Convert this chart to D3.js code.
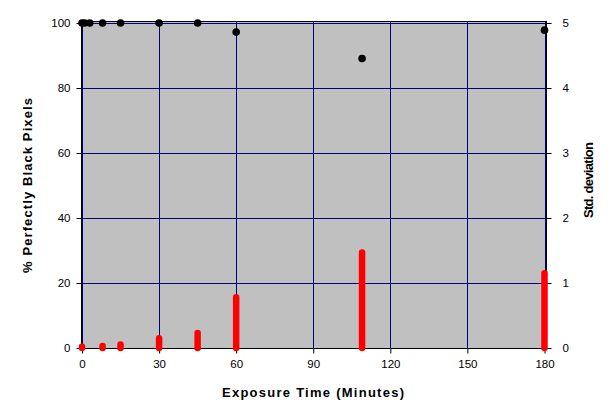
<!DOCTYPE html>
<html><head><meta charset="utf-8">
<script src="https://cdn.jsdelivr.net/npm/d3@7"></script>
<style>
html,body{margin:0;padding:0;background:#fff;}
text{font-family:"Liberation Sans",Arial,sans-serif;}
</style></head>
<body>
<svg id="c" width="612" height="419"></svg>
<script>
const times      = [0, 1, 3, 8, 15, 30, 45, 60, 109, 180];
const pctBlack   = [100, 100, 100, 100, 100, 100, 100, 97.2, 89.1, 97.8];
const stdDev     = [0.02, null, null, 0.03, 0.055, 0.15, 0.23, 0.78, 1.47, 1.15];
const xTicks     = [0, 30, 60, 90, 120, 150, 180];
const yTicks     = [0, 20, 40, 60, 80, 100];
const y2Ticks    = [0, 1, 2, 3, 4, 5];

const svg = d3.select("#c");
const x = d3.scaleLinear().domain([0, 180]).range([82, 544.5]);
const y = d3.scaleLinear().domain([0, 100]).range([348, 23]);
const y2 = d3.scaleLinear().domain([0, 5]).range([348, 23]);

// plot area
svg.append("rect").attr("x", 81).attr("y", 21).attr("width", 466).attr("height", 327)
  .attr("fill", "#c0c0c0").attr("stroke", "none");

// gridlines
svg.append("g").selectAll("line").data(yTicks.slice(1)).join("line")
  .attr("x1", 81).attr("x2", 547).attr("y1", d => Math.round(y(d)) + 0.5).attr("y2", d => Math.round(y(d)) + 0.5)
  .attr("stroke", "#000080").attr("stroke-width", 1);
svg.append("g").selectAll("line").data(xTicks).join("line")
  .attr("y1", 21).attr("y2", 348).attr("x1", d => Math.round(x(d)) + 0.5).attr("x2", d => Math.round(x(d)) + 0.5)
  .attr("stroke", "#000080").attr("stroke-width", 1);

// border (top & right)
svg.append("path").attr("d", "M81.5,348 V21.5 H546.5 V348").attr("fill", "none").attr("stroke", "#000").attr("stroke-width", 1);

// axes
const fs = "11.5px";
const gL = svg.append("g").attr("transform", "translate(81.5,0)")
  .call(d3.axisLeft(y).tickValues(yTicks).tickSize(5).tickPadding(6).tickSizeOuter(0).tickFormat(d3.format("d")));
const gR = svg.append("g").attr("transform", "translate(546.5,0)")
  .call(d3.axisRight(y2).tickValues(y2Ticks).tickSize(5).tickPadding(11).tickSizeOuter(0).tickFormat(d3.format("d")));
const gB = svg.append("g").attr("transform", "translate(0,348.5)")
  .call(d3.axisBottom(x).tickValues(xTicks).tickSize(5).tickPadding(6).tickSizeOuter(0).tickFormat(d3.format("d")));
[gL, gR, gB].forEach(g => {
  g.select(".domain").attr("stroke", "#000");
  g.selectAll(".tick line").attr("stroke", "#000");
  g.selectAll(".tick text").attr("fill", "#000").style("font-size", fs).style("font-family", "'Liberation Sans',Arial,sans-serif");
});
gB.select(".domain").attr("d", "M81,0H547");
gL.select(".domain").attr("d", "M0,21V348");
gR.select(".domain").attr("d", "M0,21V348");

// std deviation bars (secondary axis)
svg.append("g").selectAll("line").data(times.map((t, i) => ({t, v: stdDev[i]})).filter(d => d.v !== null)).join("line")
  .attr("x1", d => x(d.t)).attr("x2", d => x(d.t))
  .attr("y1", y2(0)).attr("y2", d => y2(d.v))
  .attr("stroke", "#ff0000").attr("stroke-width", 6.5).attr("stroke-linecap", "round");

// % black points
svg.append("g").selectAll("circle").data(times.map((t, i) => ({t, v: pctBlack[i]}))).join("circle")
  .attr("cx", d => x(d.t)).attr("cy", d => y(d.v)).attr("r", 3.8).attr("fill", "#000");

// titles
svg.append("text").attr("x", 313).attr("y", 397).attr("text-anchor", "middle")
  .style("font-size", "13px").style("font-weight", "bold").attr("textLength", 182)
  .text("Exposure Time (Minutes)");
svg.append("text").attr("transform", "translate(32,185.5) rotate(-90)").attr("text-anchor", "middle")
  .style("font-size", "13px").style("font-weight", "bold").attr("textLength", 175)
  .text("% Perfectly Black Pixels");
svg.append("text").attr("transform", "translate(593,180) rotate(-90)").attr("text-anchor", "middle")
  .style("font-size", "13px").style("font-weight", "bold").attr("textLength", 76)
  .text("Std. deviation");
</script>
</body></html>
